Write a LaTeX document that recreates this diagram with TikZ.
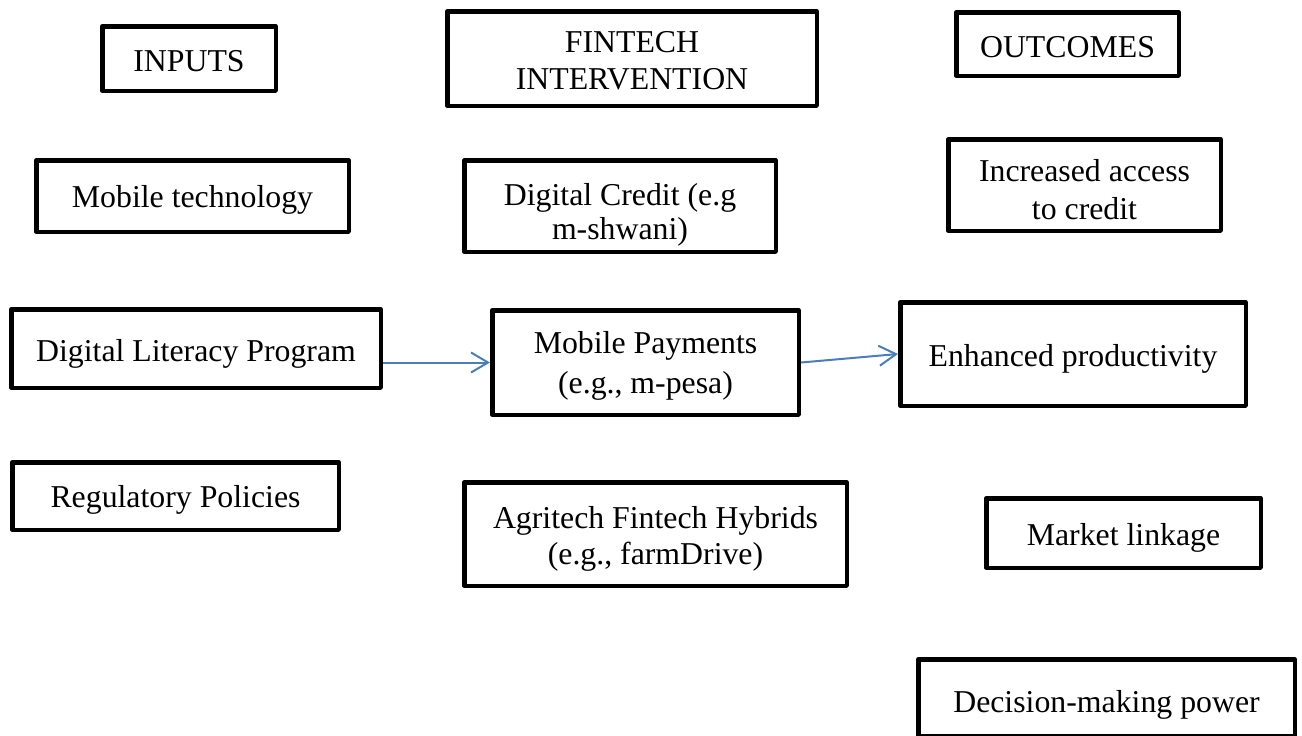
\documentclass[tikz,border=0pt]{standalone}
\usepackage{fontspec}
\setmainfont{Liberation Serif}
\usetikzlibrary{arrows.meta}
\definecolor{arrowblue}{RGB}{74,126,187}
\tikzset{
  box/.style={draw=black, line width=4.5pt, line join=round, rectangle, inner sep=0pt},
  txt/.style={inner sep=0pt, align=center, font=\fontsize{31.8}{37}\selectfont},
  link/.style={draw=arrowblue, line width=2pt,
    -{Straight Barb[length=17pt,width=20pt,line width=2pt]}}
}
\begin{document}
\begin{tikzpicture}[x=1pt,y=-1pt]
\useasboundingbox (0,0) rectangle (1302,736);
\node[box, minimum width=173.5pt, minimum height=64.5pt] (inputs) at (189,58.5) {};
\node[box, minimum width=369.5pt, minimum height=94.5pt] (fintech) at (632,58.5) {};
\node[box, minimum width=222.5pt, minimum height=63.5pt] (outcomes) at (1067.5,44) {};
\node[box, minimum width=312.5pt, minimum height=71.5pt] (mobtech) at (192.5,196) {};
\node[box, minimum width=311.5pt, minimum height=91.5pt] (dcredit) at (620,206) {};
\node[box, minimum width=272.5pt, minimum height=91.5pt] (access) at (1084.5,185) {};
\node[box, minimum width=369.5pt, minimum height=78.5pt] (literacy) at (196,348.5) {};
\node[box, minimum width=306.5pt, minimum height=104.5pt] (payments) at (645.5,362.5) {};
\node[box, minimum width=345.5pt, minimum height=103.5pt] (productivity) at (1073,354) {};
\node[box, minimum width=326.5pt, minimum height=67.5pt] (policies) at (175.5,496) {};
\node[box, minimum width=382.5pt, minimum height=103.5pt] (agritech) at (655.5,534) {};
\node[box, minimum width=274.5pt, minimum height=69.5pt] (market) at (1123.5,533) {};
\node[box, minimum width=376.5pt, minimum height=76.5pt] (decision) at (1106.5,697.5) {};
% texts
\node[txt] (inputs-t) at ([yshift=-3pt]inputs.center) {INPUTS};
\node[txt] (fintech-t) at ([yshift=-2.5pt]fintech.center) {FINTECH\\INTERVENTION};
\node[txt] (outcomes-t) at ([yshift=-3pt]outcomes.center) {OUTCOMES};
\node[txt] (mobtech-t) at ([yshift=-4pt]mobtech.center) {Mobile technology};
\node[txt, font=\fontsize{31.8}{34}\selectfont] (dcredit-t) at ([yshift=-8.5pt]dcredit.center) {Digital Credit (e.g\\m-shwani)};
\node[txt, font=\fontsize{31.8}{38}\selectfont] (access-t) at ([yshift=-4.5pt]access.center) {Increased access\\to credit};
\node[txt] (literacy-t) at ([yshift=-5pt]literacy.center) {Digital Literacy Program};
\node[txt, font=\fontsize{31.8}{40}\selectfont] (payments-t) at ([yshift=-3pt]payments.center) {Mobile Payments\\(e.g., m-pesa)};
\node[txt] (productivity-t) at ([yshift=-5pt]productivity.center) {Enhanced productivity};
\node[txt] (policies-t) at ([yshift=-4pt]policies.center) {Regulatory Policies};
\node[txt, font=\fontsize{31.8}{36}\selectfont] (agritech-t) at ([yshift=-4.5pt]agritech.center) {Agritech Fintech Hybrids\\(e.g., farmDrive)};
\node[txt] (market-t) at ([yshift=-5pt]market.center) {Market linkage};
\node[txt] (decision-t) at ([yshift=-7pt]decision.center) {Decision-making power};
\draw[link] (literacy.east |- payments.west) -- (payments.west);
\draw[link] (payments.east) -- (productivity.west);
\end{tikzpicture}
\end{document}
